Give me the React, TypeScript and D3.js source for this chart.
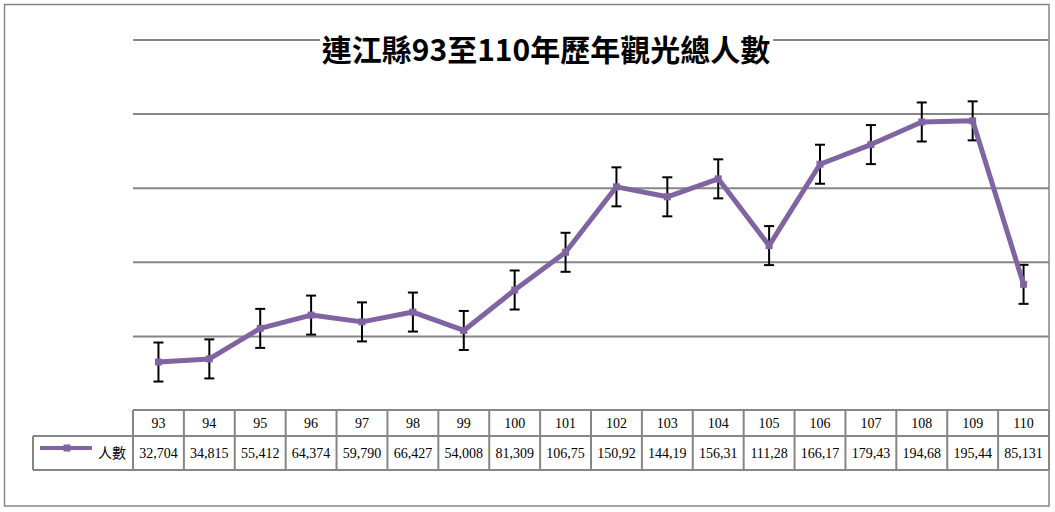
import React from "react";
import * as d3 from "d3";

const years = ["93", "94", "95", "96", "97", "98", "99", "100", "101", "102", "103", "104", "105", "106", "107", "108", "109", "110"];
const visitors = [32704, 34815, 55412, 64374, 59790, 66427, 54008, 81309, 106750, 150920, 144190, 156310, 111280, 166170, 179430, 194680, 195440, 85131];
const yTicks = [50000, 100000, 150000, 200000, 250000];
const seriesName = "人數";
const title = "連江縣93至110年歷年觀光總人數";

const W = 1055;
const H = 512;
const GRID = "#868686";
const PURPLE = "#8064A2";

export default function App() {
  const x = d3.scaleBand<string>().domain(years).range([133, 1049]).padding(0);
  const y = d3.scaleLinear().domain([0, 250000]).range([410.5, 40]);
  const bw = x.bandwidth();
  const cx = (d: string) => (x(d) as number) + bw / 2;
  const se = (d3.deviation(visitors) as number) / Math.sqrt(visitors.length);
  const line = d3
    .line<number>()
    .x((_, i) => cx(years[i]))
    .y((v) => y(v));
  const fmt = d3.format(",");
  const cellText = (v: number) => fmt(v).slice(0, 6);

  const tTop = 410;
  const tMid = 436;
  const tBot = 470;
  const legendLeft = 33;

  return (
    <svg width={W} height={H} style={{ position: "absolute", left: 0, top: 0, background: "#fff" }}>
      <rect x={0} y={0} width={W} height={H} fill="#fff" />
      {/* outer border */}
      <rect x={4.5} y={4.5} width={1044.5} height={501.5} fill="none" stroke={GRID} strokeWidth={1.5} />
      {/* gridlines */}
      {yTicks.map((t) => (
        <line key={t} x1={133} x2={1049} y1={y(t)} y2={y(t)} stroke={GRID} strokeWidth={2} />
      ))}
      {/* title */}
      <rect x={320} y={30} width={453} height={38} fill="#fff" />
      <text
        x={546}
        y={60.5}
        textAnchor="middle"
        fontFamily="'Noto Sans CJK TC', 'Noto Sans CJK SC', sans-serif"
        fontWeight="bold"
        fontSize={30}
        fill="#000"
      >
        {title}
      </text>
      {/* error bars */}
      {visitors.map((v, i) => {
        const xc = cx(years[i]);
        const y1 = y(v + se);
        const y2 = y(v - se);
        return (
          <g key={"e" + i} stroke="#000" strokeWidth={2}>
            <line x1={xc} x2={xc} y1={y1} y2={y2} />
            <line x1={xc - 5} x2={xc + 5} y1={y1} y2={y1} />
            <line x1={xc - 5} x2={xc + 5} y1={y2} y2={y2} />
          </g>
        );
      })}
      {/* series line */}
      <path d={line(visitors) || ""} fill="none" stroke={PURPLE} strokeWidth={5} strokeLinejoin="round" />
      {visitors.map((v, i) => (
        <rect key={"m" + i} x={cx(years[i]) - 3.5} y={y(v) - 3.5} width={7} height={7} fill={PURPLE} />
      ))}
      {/* data table */}
      <g stroke={GRID} strokeWidth={2} fill="none">
        <line x1={133} x2={1049} y1={tTop} y2={tTop} />
        <line x1={legendLeft} x2={1049} y1={tMid} y2={tMid} />
        <line x1={legendLeft} x2={1049} y1={tBot} y2={tBot} />
        <line x1={legendLeft} x2={legendLeft} y1={tMid} y2={tBot} />
        {years.map((yr) => (
          <line key={"v" + yr} x1={x(yr)} x2={x(yr)} y1={tTop} y2={tBot} />
        ))}
        <line x1={1049} x2={1049} y1={tTop} y2={tBot} />
      </g>
      <g fontFamily="'Liberation Serif', 'Times New Roman', serif" fontSize={14} fill="#000" textAnchor="middle">
        {years.map((yr) => (
          <text key={"h" + yr} x={cx(yr)} y={428}>
            {yr}
          </text>
        ))}
        {visitors.map((v, i) => (
          <text key={"d" + i} x={cx(years[i])} y={458}>
            {cellText(v)}
          </text>
        ))}
      </g>
      {/* legend cell */}
      <line x1={40} x2={92} y1={448} y2={448} stroke={PURPLE} strokeWidth={4} />
      <rect x={63.5} y={444.5} width={7} height={7} fill={PURPLE} />
      <text
        x={126}
        y={458}
        textAnchor="end"
        fontFamily="'Noto Sans CJK TC', sans-serif"
        fontSize={14}
        fill="#000"
      >
        {seriesName}
      </text>
    </svg>
  );
}
